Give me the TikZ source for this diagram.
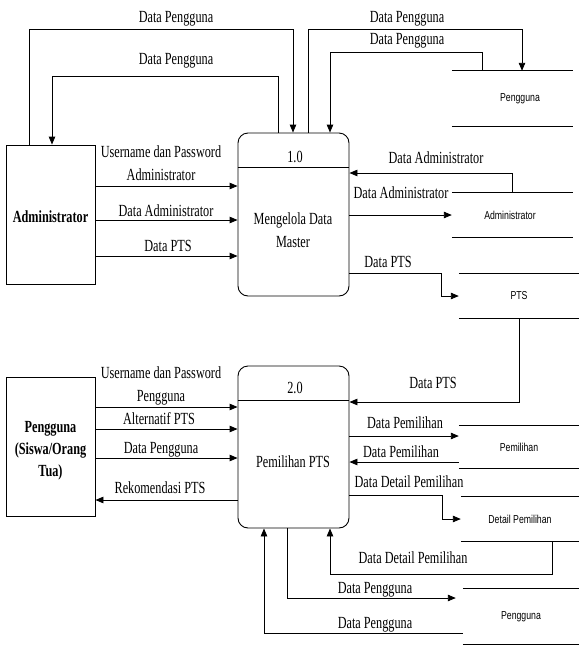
\documentclass[tikz,border=0pt]{standalone}
\usepackage{fontspec}
\setmainfont{Liberation Serif}[FakeStretch=0.72]
\newfontfamily\storefont{Liberation Sans}[FakeStretch=0.76]
\usetikzlibrary{arrows.meta}
\newcommand\twoline[2]{\begin{tabular}[b]{@{}c@{}}#1\\#2\end{tabular}}
\begin{document}
\begin{tikzpicture}[x=1pt,y=-1pt,
  line/.style={line width=0.9pt},
  arr/.style={line, -{Triangle[length=8pt,width=6.5pt]}},
  lbl/.style={font=\fontsize{17}{23}\selectfont, inner sep=0pt, anchor=base},
  entity/.style={draw, line width=0.9pt, inner sep=0pt, minimum width=89pt, minimum height=139pt, font=\fontsize{17}{22}\selectfont\bfseries},
  proc/.style={draw, line width=0.9pt, rounded corners=10pt, minimum width=111pt, inner sep=0pt},
  store/.style={inner sep=0pt, font=\storefont\fontsize{11.5}{14}\selectfont}
]
\useasboundingbox (0,0) rectangle (579,646);

% entities
\node[entity] (admin) at (50.5,214.5) {\raisebox{-7.5pt}[0pt][0pt]{Administrator}};
\node[entity] (peng) at (50.5,446.5) {\raisebox{-8pt}[0pt][0pt]{\begin{tabular}{@{}c@{}}Pengguna\\(Siswa/Orang\\Tua)\end{tabular}}};

% processes
\node[proc, minimum height=163pt] (p1) at (293.5,214.5) {};
\node[proc, minimum height=162pt] (p2) at (293.5,447) {};
\draw[line] ([yshift=-35pt]p1.north west) -- ([yshift=-35pt]p1.north east);
\draw[line] ([yshift=-35pt]p2.north west) -- ([yshift=-35pt]p2.north east);
\node[lbl] (p1id) at (295,162) {1.0};
\node[lbl] (p1txt) at (293,247) {\twoline{Mengelola Data}{Master}};
\node[lbl] (p2id) at (295,393) {2.0};
\node[lbl] (p2txt) at (293,467) {Pemilihan PTS};

% data stores
\node[store, minimum width=121pt, minimum height=55pt] (sPeng1) at (512.5,98.5) {\hspace*{15pt}Pengguna};
\node[store, minimum width=121pt, minimum height=44pt] (sAdm) at (512.5,215) {Administrator\hspace*{5pt}};
\node[store, minimum width=120pt, minimum height=44pt] (sPTS) at (519,296) {PTS};
\node[store, minimum width=120pt, minimum height=42pt] (sPem) at (519,447) {Pemilihan};
\node[store, minimum width=118pt, minimum height=44pt] (sDet) at (520,519) {Detail Pemilihan};
\node[store, minimum width=116pt, minimum height=55pt] (sPeng2) at (521,616.5) {Pengguna};
\foreach \s in {sPeng1,sAdm,sPTS,sPem,sDet,sPeng2}
  \draw[line] (\s.north west) -- (\s.north east) (\s.south west) -- (\s.south east);

% top loops
\draw[arr] (admin.north -| 29,0) -- (29,29) -| (p1.north -| 293,0);
\node[lbl] (l1) at (176,22) {Data Pengguna};
\draw[arr] (p1.north -| 278,0) -- (278,76) -| (admin.north -| 52,0);
\node[lbl] (l2) at (176,64) {Data Pengguna};
\draw[arr] (p1.north -| 308,0) -- (308,29) -| (sPeng1.north -| 522,0);
\node[lbl] (l3) at (407,22) {Data Pengguna};
\draw[arr] (sPeng1.north -| 482,0) -- (482,52) -| (p1.north -| 330,0);
\node[lbl] (l4) at (407,44) {Data Pengguna};

% admin -> p1
\draw[arr] (admin.east |- 0,186) -- (p1.west |- 0,186);
\node[lbl] (l5) at (161,180) {\twoline{Username dan Password}{Administrator}};
\draw[arr] (admin.east |- 0,220) -- (p1.west |- 0,220);
\node[lbl] (l6) at (166,216) {Data Administrator};
\draw[arr] (admin.east |- 0,256) -- (p1.west |- 0,256);
\node[lbl] (l7) at (168,251) {Data PTS};

% p1 <-> stores
\draw[arr] (sAdm.north -| 512,0) -- (512,173) -- (p1.east |- 0,173);
\node[lbl] (l8) at (436,163) {Data Administrator};
\draw[arr] (p1.east |- sAdm.west) -- (sAdm.west);
\node[lbl] (l9) at (401,198) {Data Administrator};
\draw[arr] (p1.east |- 0,273) -- (441,273) |- (sPTS.west);
\node[lbl] (l10) at (388,267) {Data PTS};
\draw[arr] (sPTS.south) |- (p2.east |- 0,402);
\node[lbl] (l11) at (433,388) {Data PTS};

% pengguna <-> p2
\draw[arr] (peng.east |- 0,407) -- (p2.west |- 0,407);
\node[lbl] (l12) at (161,401) {\twoline{Username dan Password}{Pengguna}};
\draw[arr] (peng.east |- 0,429) -- (p2.west |- 0,429);
\node[lbl] (l13) at (159,424) {Alternatif PTS};
\draw[arr] (peng.east |- 0,458) -- (p2.west |- 0,458);
\node[lbl] (l14) at (161,453) {Data Pengguna};
\draw[arr] (p2.west |- 0,500) -- (peng.east |- 0,500);
\node[lbl] (l15) at (160,493) {Rekomendasi PTS};

% p2 <-> stores
\draw[arr] (p2.east |- 0,436) -- (sPem.west |- 0,436);
\node[lbl] (l16) at (405,428) {Data Pemilihan};
\draw[arr] (sPem.west |- 0,462) -- (p2.east |- 0,462);
\node[lbl] (l17) at (401,457) {Data Pemilihan};
\draw[arr] (p2.east |- 0,495) -- (442,495) |- (sDet.west);
\node[lbl] (l18) at (409,487) {Data Detail Pemilihan};
\draw[arr] (sDet.south -| 552,0) -- (552,574) -| (p2.south -| 330,0);
\node[lbl] (l19) at (413,563) {Data Detail Pemilihan};
\draw[arr, shorten >=7pt] (p2.south -| 287,0) |- (sPeng2.west |- 0,598);
\node[lbl] (l20) at (375,593) {Data Pengguna};
\draw[arr] (sPeng2.west |- 0,633) -| (p2.south -| 264,0);
\node[lbl] (l21) at (375,628) {Data Pengguna};
\end{tikzpicture}
\end{document}
